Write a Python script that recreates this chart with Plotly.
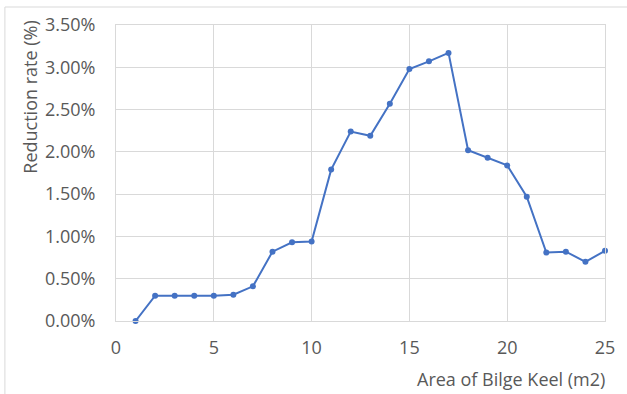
import plotly.graph_objects as go

# Bilge keel area (m2) vs. roll reduction rate (%)
area_m2 = list(range(1, 26))
reduction_pct = [0.00, 0.30, 0.30, 0.30, 0.30, 0.31, 0.41, 0.82, 0.93, 0.94,
                 1.79, 2.24, 2.19, 2.57, 2.98, 3.07, 3.17, 2.02, 1.93, 1.84,
                 1.47, 0.81, 0.82, 0.70, 0.83]
y_ticks = [0.0, 0.5, 1.0, 1.5, 2.0, 2.5, 3.0, 3.5]
x_ticks = [0, 5, 10, 15, 20, 25]

W, H = 627, 394
L, R, T, B = 116, 18, 25, 73

FONT = "Open Sans"
GRAY = "#595959"
GRID = "#D9D9D9"

fig = go.Figure(go.Scatter(
    x=area_m2,
    y=[v / 100 for v in reduction_pct],
    mode="lines+markers",
    line=dict(color="#4472C4", width=2),
    marker=dict(color="#4472C4", size=6),
    cliponaxis=False,
))

fig.update_layout(
    width=W, height=H,
    margin=dict(l=L, r=R, t=T, b=B),
    paper_bgcolor="white", plot_bgcolor="white",
    showlegend=False,
    font=dict(family=FONT, size=18, color=GRAY),
    xaxis=dict(
        range=[0, 25], tickvals=x_ticks, showgrid=True, gridcolor=GRID,
        gridwidth=1, zeroline=False, showline=True, linecolor=GRID,
        mirror=True, ticks="", ticklabelstandoff=10,
    ),
    yaxis=dict(
        range=[0, 0.035], tickvals=[v / 100 for v in y_ticks],
        tickformat=".2%", showgrid=True, gridcolor=GRID, gridwidth=1,
        zeroline=False, showline=True, linecolor=GRID, mirror=True,
        ticks="", ticklabelstandoff=16,
    ),
)

pw, ph = W - L - R, H - T - B

def px_x(p):
    return (p - L) / pw

def px_y(p):
    return (H - B - p) / ph

# chart area border (top and left edges visible)
fig.add_shape(type="line", xref="paper", yref="paper",
              x0=px_x(4), x1=px_x(W + 5), y0=px_y(7), y1=px_y(7),
              line=dict(color=GRID, width=1))
fig.add_shape(type="line", xref="paper", yref="paper",
              x0=px_x(4), x1=px_x(4), y0=px_y(7), y1=px_y(H + 5),
              line=dict(color=GRID, width=1))

fig.add_annotation(text="Reduction rate (%)", xref="paper", yref="paper",
                   x=px_x(29), y=px_y(97), textangle=-90, showarrow=False,
                   xanchor="center", yanchor="middle",
                   font=dict(family=FONT, size=18, color=GRAY))
fig.add_annotation(text="Area of Bilge Keel (m2)", xref="paper", yref="paper",
                   x=px_x(611), y=px_y(379), showarrow=False,
                   xanchor="right", yanchor="middle",
                   font=dict(family=FONT, size=18, color=GRAY))

fig.write_html("out.html")
